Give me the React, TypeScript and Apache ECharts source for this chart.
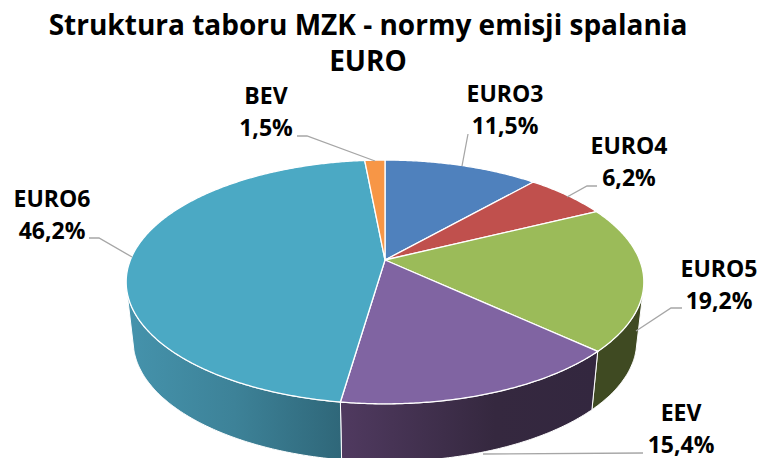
import React, { useEffect, useRef } from "react";
import * as echarts from "echarts";

const categories = ["EURO3", "EURO4", "EURO5", "EEV", "EURO6", "BEV"];
const shares = [11.5, 6.2, 19.2, 15.4, 46.2, 1.5];
const titleText = "Struktura taboru MZK - normy emisji spalania\nEURO";

const colors = ["#4F81BD", "#C0504D", "#9BBB59", "#8064A2", "#4BA9C4", "#F79646"];

// label centres and leader lines, in page pixels
const labelCenters = [[505, 110], [629, 162], [719, 285], [681, 429], [52, 215], [266, 112]];
const leaders = [
  [[468, 134], [462, 166]],
  [[597, 186], [587, 186], [567, 197]],
  [[682, 308], [671, 308], [636, 331]],
  [[643, 453], [483, 454]],
  [[89, 238], [99, 238], [132, 257]],
  [[297, 136], [307, 136], [375, 161]],
];

const CX = 385;
const APEX_Y = 260;
const PERSP = -0.18;
const K = 254.6;
const A = 71.15;

function topPoint(deg: number): number[] {
  const r = (deg * Math.PI) / 180;
  const u = Math.sin(r);
  const v = -Math.cos(r);
  const d = 1 + PERSP * v;
  return [CX + (K * u) / d, (APEX_Y + A * v) / d];
}
function bottomPoint(p: number[]): number[] {
  return [CX + ((p[0] - CX) * 251) / 258, 341 + (p[1] - 282) * 0.99];
}
function sliceRange(index: number): number[] {
  const total = shares.reduce((a, b) => a + b, 0);
  let s = 0;
  for (let i = 0; i < index; i++) s += shares[i];
  return [(s / total) * 360, ((s + shares[index]) / total) * 360];
}
function arcPoints(a0: number, a1: number): number[][] {
  const pts: number[][] = [];
  const n = Math.max(2, Math.ceil((a1 - a0) * 2));
  for (let i = 0; i <= n; i++) pts.push(topPoint(a0 + ((a1 - a0) * i) / n));
  return pts;
}

const wallFills: any[] = [
  "#2A4468",
  "#62292A",
  "#3F4A22",
  new echarts.graphic.LinearGradient(0, 0, 1, 0, [
    { offset: 0, color: "#503A60" },
    { offset: 0.6, color: "#35283F" },
    { offset: 1, color: "#33273F" },
  ]),
  new echarts.graphic.LinearGradient(0, 0, 1, 0, [
    { offset: 0, color: "#4593AC" },
    { offset: 0.5, color: "#3D8298" },
    { offset: 1, color: "#2F6779" },
  ]),
  "#7E4C24",
];

export default function App() {
  const ref = useRef<HTMLDivElement>(null);
  useEffect(() => {
    const chart = echarts.init(ref.current!, undefined, { renderer: "svg" });
    chart.setOption({
      animation: false,
      backgroundColor: "#fff",
      title: {
        text: titleText,
        left: 363,
        top: 1,
        textAlign: "center",
        textStyle: {
          fontFamily: "Open Sans",
          fontWeight: "bold",
          fontSize: 28,
          lineHeight: 36,
          color: "#000",
        },
      },
      series: [
        {
          type: "custom",
          coordinateSystem: "none",
          silent: true,
          clip: false,
          data: shares,
          renderItem: (params: any) => {
            const [a0, a1] = sliceRange(params.dataIndex);
            const front = arcPoints(a0, a1).filter((p) => p[1] >= 290);
            if (front.length < 2) return { type: "group", children: [] };
            const back = front.map(bottomPoint).reverse();
            return {
              type: "polygon",
              shape: { points: front.concat(back) },
              style: { fill: wallFills[params.dataIndex], stroke: "#fff", lineWidth: 1 },
            };
          },
        },
        {
          type: "custom",
          coordinateSystem: "none",
          silent: true,
          clip: false,
          data: shares,
          renderItem: (params: any) => {
            const [a0, a1] = sliceRange(params.dataIndex);
            return {
              type: "polygon",
              shape: { points: [[CX, APEX_Y], ...arcPoints(a0, a1)] },
              style: { fill: colors[params.dataIndex], stroke: "#fff", lineWidth: 1.3, lineJoin: "round" },
            };
          },
        },
        {
          type: "custom",
          coordinateSystem: "none",
          silent: true,
          clip: false,
          data: shares,
          renderItem: (params: any, api: any) => {
            const i = params.dataIndex;
            const [x, y] = labelCenters[i];
            const pct = api.value(0).toFixed(1).replace(".", ",") + "%";
            return {
              type: "group",
              children: [
                {
                  type: "polyline",
                  shape: { points: leaders[i] },
                  style: { stroke: "#A6A6A6", lineWidth: 1.3, fill: "none" },
                },
                {
                  type: "text",
                  style: {
                    x,
                    y: y - 17,
                    text: categories[i],
                    align: "center",
                    verticalAlign: "middle",
                    fontFamily: "Open Sans",
                    fontWeight: "bold",
                    fontSize: 23,
                    fill: "#000",
                  },
                },
                {
                  type: "text",
                  style: {
                    x,
                    y: y + 15,
                    text: pct,
                    align: "center",
                    verticalAlign: "middle",
                    fontFamily: "Open Sans",
                    fontWeight: "bold",
                    fontSize: 23,
                    fill: "#000",
                  },
                },
              ],
            };
          },
        },
      ],
    });
    return () => chart.dispose();
  }, []);
  return (
    <div
      ref={ref}
      style={{ position: "fixed", left: 0, top: 0, width: 761, height: 458, overflow: "hidden" }}
    />
  );
}
